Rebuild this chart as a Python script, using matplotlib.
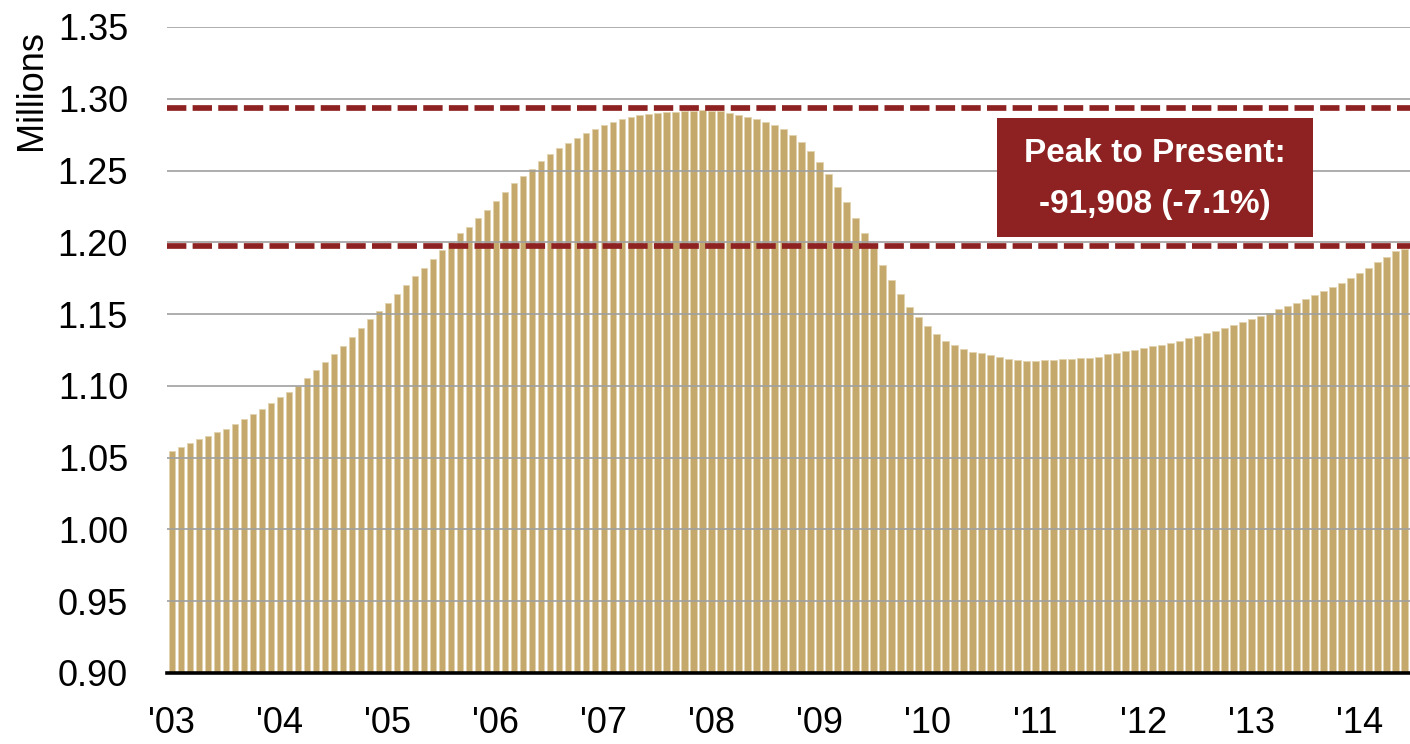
import numpy as np
import matplotlib.pyplot as plt
from matplotlib.patches import Rectangle

plt.rcParams['font.family'] = ['Liberation Sans', 'DejaVu Sans']

# monthly level, millions, Jan 2003 .. Jun 2014
values = [
    1.0546, 1.0574, 1.0602, 1.0627, 1.0653, 1.0676, 1.0701, 1.0734, 1.0766, 1.0801, 1.0838, 1.0878,
    1.0920, 1.0957, 1.0999, 1.1054, 1.1110, 1.1166, 1.1224, 1.1279, 1.1338, 1.1400, 1.1463, 1.1521,
    1.1579, 1.1639, 1.1700, 1.1762, 1.1823, 1.1883, 1.1944, 1.1999, 1.2062, 1.2110, 1.2168, 1.2224,
    1.2285, 1.2350, 1.2410, 1.2463, 1.2514, 1.2568, 1.2614, 1.2658, 1.2695, 1.2730, 1.2763, 1.2791,
    1.2817, 1.2838, 1.2858, 1.2874, 1.2888, 1.2897, 1.2904, 1.2909, 1.2909, 1.2914, 1.2918, 1.2921,
    1.2916, 1.2914, 1.2900, 1.2890, 1.2874, 1.2856, 1.2837, 1.2814, 1.2788, 1.2751, 1.2698, 1.2635,
    1.2561, 1.2475, 1.2382, 1.2280, 1.2171, 1.2062, 1.1969, 1.1841, 1.1737, 1.1639, 1.1551, 1.1477,
    1.1416, 1.1358, 1.1314, 1.1284, 1.1259, 1.1238, 1.1226, 1.1214, 1.1198, 1.1187, 1.1180, 1.1173,
    1.1175, 1.1180, 1.1182, 1.1184, 1.1187, 1.1191, 1.1196, 1.1203, 1.1219, 1.1231, 1.1242, 1.1252,
    1.1263, 1.1275, 1.1286, 1.1298, 1.1314, 1.1331, 1.1347, 1.1365, 1.1384, 1.1402, 1.1423, 1.1444,
    1.1465, 1.1488, 1.1509, 1.1535, 1.1556, 1.1577, 1.1607, 1.1632, 1.1660, 1.1688, 1.1718, 1.1755,
    1.1786, 1.1823, 1.1864, 1.1899, 1.1939, 1.1953,
]
year_labels = ["'03", "'04", "'05", "'06", "'07", "'08", "'09", "'10", "'11", "'12", "'13", "'14"]
y_ticks = [0.90, 0.95, 1.00, 1.05, 1.10, 1.15, 1.20, 1.25, 1.30, 1.35]

peak_level = 1.2937
present_level = 1.1975
note = "Peak to Present:\n-91,908 (-7.1%)"

BAR = '#C5A86C'
RED = '#8E2222'

fig = plt.figure(figsize=(14.1, 7.44), dpi=100)
ax = fig.add_axes([167 / 1410, 1 - 673 / 744, 1 - 167 / 1410, (673 - 27) / 744])

x = np.arange(len(values))
ax.bar(x, values, width=0.7, color=BAR, edgecolor='#E2D3AE', linewidth=0.6, zorder=2)

ax.set_ylim(0.90, 1.35)
ax.set_xlim(-0.52, 137.6)
ax.set_yticks(y_ticks)
ax.set_yticklabels([f'{v:.2f}' for v in y_ticks])
ax.set_xticks(x[::12])
ax.set_xticklabels(year_labels)
ax.tick_params(axis='both', length=0, labelsize=26)
ax.tick_params(axis='y', pad=28)
ax.tick_params(axis='x', pad=24)

for s in ['top', 'right', 'left']:
    ax.spines[s].set_visible(False)
ax.spines['bottom'].set_color('black')
ax.spines['bottom'].set_linewidth(2.6)
ax.spines['bottom'].set_zorder(5)

ax.grid(axis='y', color='#A0A0A0', linewidth=1.2, zorder=3)
ax.set_axisbelow(False)
ax.xaxis.grid(False)

for lvl in [peak_level, present_level]:
    ax.axhline(lvl, color=RED, linewidth=4.1, linestyle=(0, (3.4, 1.1)), zorder=4)

# annotation box
ax.add_patch(Rectangle((91.7, 1.2036), 35.1, 0.0829, facecolor=RED, edgecolor='none', zorder=6))
ax.text(109.25, 1.2440, note, ha='center', va='center', color='white', fontsize=24,
        fontweight='bold', linespacing=1.85, zorder=7)

fig.text(31 / 1410, 1 - 90 / 744, 'Millions', rotation=90, ha='center', va='center', fontsize=26)

fig.savefig('out.png', dpi=100)
